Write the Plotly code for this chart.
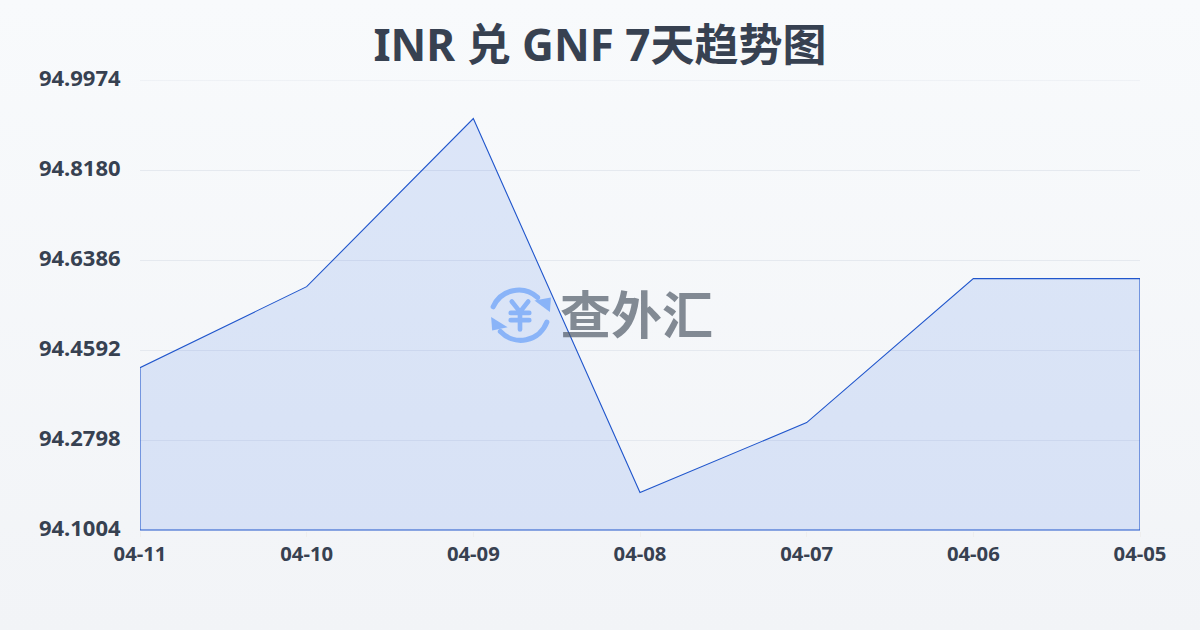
import base64
import plotly.graph_objects as go

dates = ["04-11", "04-10", "04-09", "04-08", "04-07", "04-06", "04-05"]
rates = [94.4240, 94.5855, 94.9205, 94.1750, 94.3145, 94.6015, 94.6015]
y_ticks = [94.1004, 94.2798, 94.4592, 94.6386, 94.8180, 94.9974]
y_labels = ["94.1004", "94.2798", "94.4592", "94.6386", "94.8180", "94.9974"]
title = "INR 兑 GNF 7天趋势图"
watermark = "查外汇"

base = y_ticks[0]
poly_x = list(range(len(dates))) + [len(dates) - 1, 0, 0]
poly_y = rates + [base, base, rates[0]]

PLOT_H = 451

bg_svg = """<svg xmlns='http://www.w3.org/2000/svg' width='1200' height='630'>
<defs><linearGradient id='g' x1='0' y1='0' x2='0' y2='1'>
<stop offset='0' stop-color='#f8fafc'/><stop offset='1' stop-color='#f2f4f7'/></linearGradient></defs>
<rect width='1200' height='630' fill='url(#g)'/></svg>"""

logo_svg = """<svg xmlns='http://www.w3.org/2000/svg' width='64' height='64' viewBox='0 0 64 64'>
<g fill='none' stroke='#8ab4f8' stroke-width='5' stroke-linecap='round'>
<path d='M6 23 A27 27 0 0 1 49 14'/>
<path d='M58 38 A27 27 0 0 1 13 47'/>
<path d='M24 18 L32 28 L40 18 M32 28 L32 45 M23 29 L41 29 M23 36 L41 36' stroke-width='4.5'/>
</g>
<path d='M46 17 L62 14 L61 28 Z' fill='#8ab4f8'/>
<path d='M4 33 L20 43 L5 46 Z' fill='#8ab4f8'/>
</svg>"""


def uri(svg):
    return "data:image/svg+xml;base64," + base64.b64encode(svg.encode("utf-8")).decode()


fig = go.Figure()
fig.add_trace(go.Scatter(
    x=poly_x, y=poly_y, mode="lines", fill="toself",
    fillcolor="rgba(37,99,235,0.13)",
    line=dict(color="#2056cc", width=1.1),
    hoverinfo="skip", showlegend=False,
))

fig.update_layout(
    width=1200, height=630,
    margin=dict(l=140, r=60, t=80, b=99),
    autosize=False,
    paper_bgcolor="#f6f8fa", plot_bgcolor="rgba(0,0,0,0)",
    font=dict(family="Noto Sans, Noto Sans CJK SC, sans-serif", color="#374151"),
    title=dict(
        text=f"<b>{title}</b>", x=0.5, xanchor="center", y=0.928, yanchor="middle",
        font=dict(family="Noto Sans, Noto Sans CJK SC, sans-serif", size=44, color="#374151"),
    ),
    xaxis=dict(
        tickmode="array", tickvals=list(range(len(dates))), ticktext=[f"<b>{d}</b>" for d in dates],
        range=[0, len(dates) - 1], showgrid=False, zeroline=False, showline=False,
        ticks="outside", ticklen=5, tickcolor="#eeeeee", tickwidth=1,
        tickfont=dict(size=20.3, color="#374151"), automargin=False,
    ),
    yaxis=dict(
        tickmode="array", tickvals=y_ticks, ticktext=[f"<b>{t}</b>" for t in y_labels],
        range=[y_ticks[0] - 0.002, y_ticks[-1]], showgrid=True, gridcolor="#e5e9ef", gridwidth=1,
        zeroline=False, showline=False, ticks="outside", ticklen=14, tickcolor="rgba(0,0,0,0)",
        tickfont=dict(size=22, color="#374151"), ticklabelshift=-2, automargin=False,
    ),
    shapes=[dict(type="line", xref="paper", yref="y", x0=0, x1=1, y0=y_ticks[-1], y1=y_ticks[-1],
                 line=dict(color="#e5e9ef", width=1), layer="below")],
    images=[
        dict(source=uri(bg_svg), xref="paper", yref="paper", x=-140 / 1000, y=1 + 80 / PLOT_H,
             sizex=1.2, sizey=630 / PLOT_H, xanchor="left", yanchor="top", sizing="stretch", layer="below"),
        dict(source=uri(logo_svg), xref="paper", yref="paper", x=(487 - 140) / 1000, y=(531 - 283) / PLOT_H,
             sizex=0.066, sizey=66 / PLOT_H, xanchor="left", yanchor="top", sizing="stretch", layer="above", opacity=1),
    ],
    annotations=[dict(
        text=f"<b>{watermark}</b>", xref="paper", yref="paper", x=(636 - 140) / 1000, y=(531 - 312) / PLOT_H,
        xanchor="center", yanchor="middle", showarrow=False,
        font=dict(family="Noto Sans CJK SC, sans-serif", size=51, color="rgba(75,85,99,0.68)"),
    )],
)

fig.write_html("out.html", config={"displayModeBar": False},
               post_script="document.body.style.margin='0';document.documentElement.style.overflow='hidden';")
